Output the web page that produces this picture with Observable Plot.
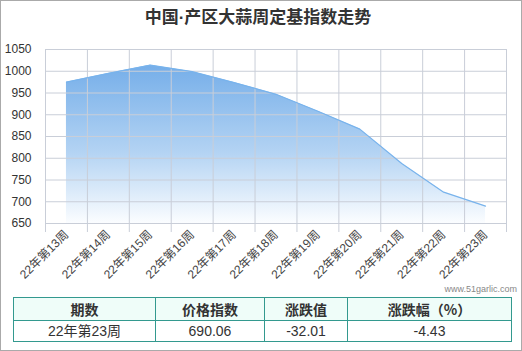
<!DOCTYPE html>
<html>
<head>
<meta charset="utf-8">
<script src="https://cdn.jsdelivr.net/npm/d3@7"></script>
<script src="https://cdn.jsdelivr.net/npm/@observablehq/plot@0.6"></script>
<style>
  html, body { margin: 0; padding: 0; background: #fff; }
  #wrap { position: relative; width: 522px; height: 351px; background: #fff; overflow: hidden; }
  #border { position: absolute; left: 0; top: 0; width: 522px; height: 351px; box-sizing: border-box; border: 1px solid #aaaaaa; pointer-events: none; }
  #title { position: absolute; left: 0; top: 6px; width: 516px; text-align: center; font: bold 17px "Liberation Sans", "Noto Sans CJK SC", sans-serif; color: #333; line-height: 24px; }
  #chart { position: absolute; left: 0; top: 30px; }
  #wm { position: absolute; right: 5px; top: 283px; font: 9px "Liberation Sans", sans-serif; color: #888; line-height: 12px; }
  table { position: absolute; left: 13px; top: 297px; border-collapse: collapse; table-layout: fixed; width: 498px; }
  td, th { border: 1px solid #33998f; padding: 0; text-align: center; color: #333; font-size: 14px; font-family: "Liberation Sans", "Noto Sans CJK SC", sans-serif; }
  th { background: #effdf9; font-weight: bold; height: 22px; line-height: 20px; font-family: "Noto Sans CJK SC", sans-serif; }
  td { height: 20px; line-height: 18px; }
</style>
</head>
<body>
<div id="wrap">
  <div id="title">中国·产区大蒜周定基指数走势</div>
  <div id="chart"></div>
  <div id="wm">www.51garlic.com</div>
  <table id="tbl"></table>
  <div id="border"></div>
</div>
<script>
const weeks = ["22年第13周", "22年第14周", "22年第15周", "22年第16周", "22年第17周", "22年第18周", "22年第19周", "22年第20周", "22年第21周", "22年第22周", "22年第23周"];
const indexValues = [975, 995, 1014, 999, 974, 947, 908, 867, 788, 722.07, 690.06];
const yTicks = [650, 700, 750, 800, 850, 900, 950, 1000, 1050];
const tableHead = ["期数", "价格指数", "涨跌值", "涨跌幅（%）"];
const tableRow = ["22年第23周", "690.06", "-32.01", "-4.43"];
const colWidths = [142, 109, 83, 164];

const data = weeks.map((w, i) => ({i, week: w, v: indexValues[i]}));
const idx = weeks.map((w, i) => i);
const edges = weeks.map((w, i) => i - 0.5).concat([weeks.length - 0.5]);
const grid = "#c9ced8";

const chart = Plot.plot({
  width: 522,
  height: 255,
  marginTop: 19,
  marginLeft: 45,
  marginRight: 16,
  marginBottom: 62,
  x: {type: "linear", domain: [-0.5, weeks.length - 0.5]},
  y: {domain: [650, 1050]},
  style: {fontFamily: "'Liberation Sans','Noto Sans CJK SC',sans-serif", fontSize: "12px", color: "#333", background: "transparent", overflow: "visible"},
  marks: [
    Plot.areaY(data, {x: "i", y1: 650, y2: "v", fill: "url(#areaGrad)"}),
    Plot.ruleY(yTicks, {stroke: grid}),
    Plot.ruleX(edges, {stroke: grid}),
    Plot.lineY(data, {x: "i", y: "v", stroke: "#78b3ec", strokeWidth: 1.2}),
    Plot.axisY(yTicks, {tickSize: 0, tickPadding: 14, label: null, fontSize: 12, tickFormat: d => String(d)}),
    Plot.axisX(edges, {tickSize: 9, stroke: grid, tickFormat: () => "", label: null}),
    Plot.axisX(idx, {tickSize: 0, tickPadding: 9, tickRotate: -45, tickFormat: i => weeks[i], label: null, fontSize: 12, fill: "#444"})
  ]
});

const defs = d3.select(chart).insert("defs", ":first-child");
const g = defs.append("linearGradient").attr("id", "areaGrad").attr("x1", 0).attr("y1", 0).attr("x2", 0).attr("y2", 1);
g.append("stop").attr("offset", "0%").attr("stop-color", "#75aee9");
g.append("stop").attr("offset", "55%").attr("stop-color", "#b3d3f3");
g.append("stop").attr("offset", "100%").attr("stop-color", "#fbfdff");

document.getElementById("chart").appendChild(chart);

const tbl = d3.select("#tbl");
const cg = tbl.append("colgroup");
colWidths.forEach(w => cg.append("col").style("width", w + "px"));
tbl.append("tr").selectAll("th").data(tableHead).join("th").text(d => d);
tbl.append("tr").selectAll("td").data(tableRow).join("td").text(d => d);
</script>
</body>
</html>
